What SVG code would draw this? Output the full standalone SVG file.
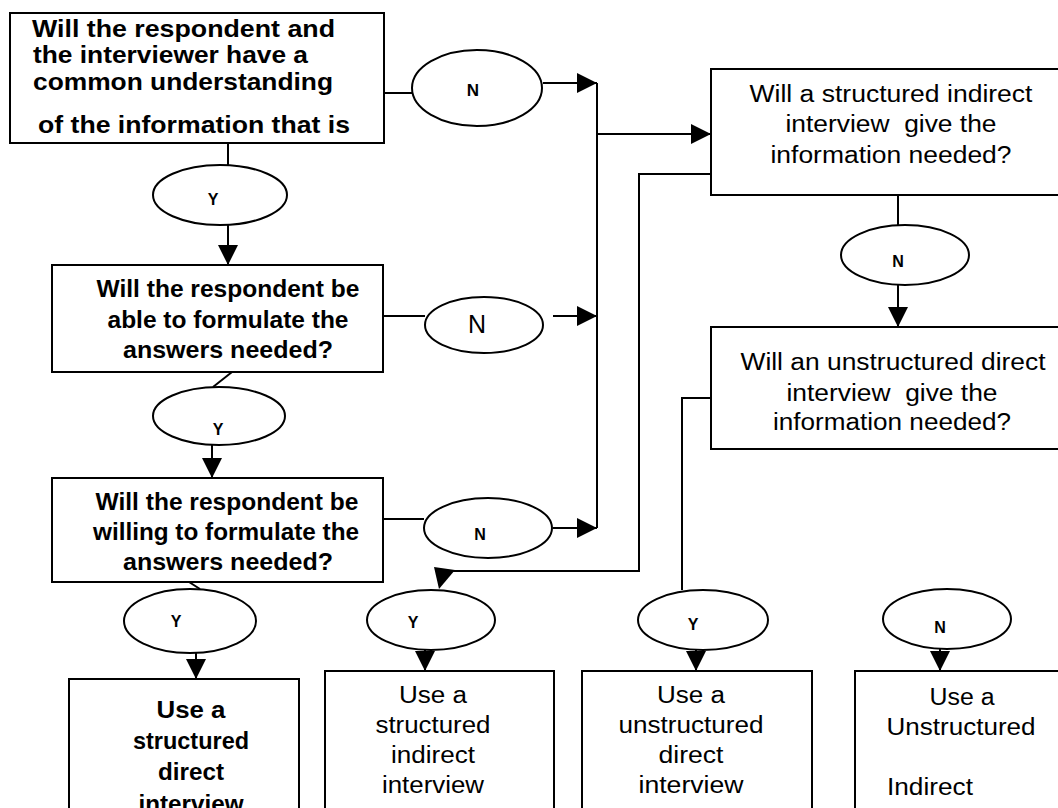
<svg xmlns="http://www.w3.org/2000/svg" width="1058" height="808" viewBox="0 0 1058 808">
<defs>
<marker id="ah" viewBox="0 0 20 20" refX="20" refY="10" markerWidth="20" markerHeight="20" markerUnits="userSpaceOnUse" orient="auto">
<path d="M0,0 L20,10 L0,20 z" fill="#000"/>
</marker>
<style>
.box{fill:#fff;stroke:#000;stroke-width:2}
.ell{fill:#fff;stroke:#000;stroke-width:2}
.c{fill:none;stroke:#000;stroke-width:2}
.ca{fill:none;stroke:#000;stroke-width:2;marker-end:url(#ah)}
text{font-family:"Liberation Sans",Arial,sans-serif;fill:#000}
.b{font-size:24px;font-weight:bold;text-anchor:middle}
.bl{font-size:24px;font-weight:bold}
.r{font-size:23px;text-anchor:middle}
.rl{font-size:23px}
.lb{font-size:16px;font-weight:bold;text-anchor:middle}
.lr{font-size:25px;text-anchor:middle}
</style>
</defs>
<rect width="1058" height="808" fill="#fff"/>

<g id="connectors">
<line class="c" x1="384" y1="93" x2="412" y2="93"/>
<line class="ca" x1="543" y1="83" x2="597" y2="83"/>
<line class="c" x1="228" y1="143" x2="228" y2="165"/>
<line class="ca" x1="228" y1="225" x2="228" y2="265"/>
<line class="c" x1="383" y1="316" x2="425" y2="316"/>
<line class="ca" x1="553" y1="316" x2="597" y2="316"/>
<line class="c" x1="232" y1="372" x2="213" y2="387"/>
<line class="ca" x1="212" y1="445" x2="212" y2="478"/>
<line class="c" x1="383" y1="519" x2="424" y2="519"/>
<line class="ca" x1="553" y1="528" x2="597" y2="528"/>
<line class="c" x1="597" y1="83" x2="597" y2="528"/>
<line class="ca" x1="597" y1="134" x2="711" y2="134"/>
<line class="c" x1="189" y1="582" x2="200" y2="589"/>
<line class="ca" x1="196" y1="653" x2="196" y2="679"/>
<polyline class="c" points="711,174 639,174 639,571 445,571"/>
<polygon points="434,567 455,570 439,589" fill="#000"/>
<line class="ca" x1="425" y1="650" x2="425" y2="671"/>
<line class="c" x1="898" y1="195" x2="898" y2="225"/>
<line class="ca" x1="898" y1="285" x2="898" y2="327"/>
<polyline class="c" points="711,398 682,398 682,590"/>
<line class="ca" x1="696" y1="650" x2="696" y2="671"/>
<line class="ca" x1="940" y1="649" x2="940" y2="671"/>
</g>

<g id="q-common">
<rect class="box" x="10" y="13" width="374" height="130"/>
<text class="bl" x="32" y="37" textLength="303" lengthAdjust="spacingAndGlyphs">Will the respondent and</text>
<text class="bl" x="33" y="63" textLength="275" lengthAdjust="spacingAndGlyphs">the interviewer have a</text>
<text class="bl" x="33" y="90" textLength="300" lengthAdjust="spacingAndGlyphs">common understanding</text>
<text class="bl" x="38" y="133" textLength="312" lengthAdjust="spacingAndGlyphs">of the information that is</text>
</g>

<g id="q-able">
<rect class="box" x="52" y="265" width="331" height="107"/>
<text class="b" x="228" y="297" textLength="263" lengthAdjust="spacingAndGlyphs">Will the respondent be</text>
<text class="b" x="228" y="328" textLength="241" lengthAdjust="spacingAndGlyphs">able to formulate the</text>
<text class="b" x="228" y="358" textLength="210" lengthAdjust="spacingAndGlyphs">answers needed?</text>
</g>

<g id="q-willing">
<rect class="box" x="52" y="478" width="331" height="104"/>
<text class="b" x="227" y="510" textLength="263" lengthAdjust="spacingAndGlyphs">Will the respondent be</text>
<text class="b" x="226" y="540" textLength="266" lengthAdjust="spacingAndGlyphs">willing to formulate the</text>
<text class="b" x="228" y="570" textLength="210" lengthAdjust="spacingAndGlyphs">answers needed?</text>
</g>

<g id="q-structured-indirect">
<rect class="box" x="711" y="69" width="352" height="126"/>
<text class="r" x="891" y="102" textLength="283" lengthAdjust="spacingAndGlyphs">Will a structured indirect</text>
<text class="r" x="891" y="132" textLength="211" lengthAdjust="spacingAndGlyphs" xml:space="preserve">interview  give the</text>
<text class="r" x="891" y="163" textLength="241" lengthAdjust="spacingAndGlyphs">information needed?</text>
</g>

<g id="q-unstructured-direct">
<rect class="box" x="711" y="327" width="352" height="122"/>
<text class="r" x="893" y="370" textLength="305" lengthAdjust="spacingAndGlyphs">Will an unstructured direct</text>
<text class="r" x="892" y="401" textLength="211" lengthAdjust="spacingAndGlyphs" xml:space="preserve">interview  give the</text>
<text class="r" x="892" y="430" textLength="238" lengthAdjust="spacingAndGlyphs">information needed?</text>
</g>

<g id="e-n1"><ellipse class="ell" cx="477" cy="88" rx="65" ry="38"/><text class="lb" x="473" y="96" style="font-size:17px">N</text></g>
<g id="e-y1"><ellipse class="ell" cx="220" cy="195" rx="67" ry="30"/><text class="lb" x="213" y="205">Y</text></g>
<g id="e-n2"><ellipse class="ell" cx="484" cy="325" rx="59" ry="28"/><text class="lr" x="477" y="333">N</text></g>
<g id="e-y2"><ellipse class="ell" cx="219" cy="416" rx="66" ry="29"/><text class="lb" x="218" y="435">Y</text></g>
<g id="e-n3"><ellipse class="ell" cx="488" cy="528" rx="64" ry="30"/><text class="lb" x="480" y="540">N</text></g>
<g id="e-n4"><ellipse class="ell" cx="905" cy="255" rx="64" ry="30"/><text class="lb" x="898" y="267">N</text></g>
<g id="e-y4"><ellipse class="ell" cx="190" cy="621" rx="66" ry="32"/><text class="lb" x="176" y="627">Y</text></g>
<g id="e-y5"><ellipse class="ell" cx="431" cy="620" rx="64" ry="30"/><text class="lb" x="413" y="628">Y</text></g>
<g id="e-y6"><ellipse class="ell" cx="703" cy="620" rx="65" ry="30"/><text class="lb" x="693" y="630">Y</text></g>
<g id="e-n7"><ellipse class="ell" cx="947" cy="619" rx="64" ry="30"/><text class="lb" x="940" y="633">N</text></g>

<g id="r-structured-direct">
<rect class="box" x="69" y="679" width="230" height="140"/>
<text class="b" x="191" y="718" textLength="69" lengthAdjust="spacingAndGlyphs">Use a</text>
<text class="b" x="191" y="749" textLength="116" lengthAdjust="spacingAndGlyphs">structured</text>
<text class="b" x="191" y="780" textLength="66" lengthAdjust="spacingAndGlyphs">direct</text>
<text class="b" x="191" y="812" textLength="105" lengthAdjust="spacingAndGlyphs">interview</text>
</g>

<g id="r-structured-indirect">
<rect class="box" x="325" y="671" width="229" height="148"/>
<text class="r" x="433" y="703" textLength="68" lengthAdjust="spacingAndGlyphs">Use a</text>
<text class="r" x="433" y="733" textLength="115" lengthAdjust="spacingAndGlyphs">structured</text>
<text class="r" x="433" y="763" textLength="84" lengthAdjust="spacingAndGlyphs">indirect</text>
<text class="r" x="433" y="793" textLength="102" lengthAdjust="spacingAndGlyphs">interview</text>
</g>

<g id="r-unstructured-direct">
<rect class="box" x="582" y="671" width="230" height="148"/>
<text class="r" x="691" y="703" textLength="68" lengthAdjust="spacingAndGlyphs">Use a</text>
<text class="r" x="691" y="733" textLength="145" lengthAdjust="spacingAndGlyphs">unstructured</text>
<text class="r" x="691" y="763" textLength="65" lengthAdjust="spacingAndGlyphs">direct</text>
<text class="r" x="691" y="793" textLength="105" lengthAdjust="spacingAndGlyphs">interview</text>
</g>

<g id="r-unstructured-indirect">
<rect class="box" x="855" y="671" width="215" height="148"/>
<text class="r" x="962" y="705" textLength="65" lengthAdjust="spacingAndGlyphs">Use a</text>
<text class="r" x="961" y="735" textLength="149" lengthAdjust="spacingAndGlyphs">Unstructured</text>
<text class="rl" x="887" y="795" textLength="86" lengthAdjust="spacingAndGlyphs">Indirect</text>
</g>
</svg>
